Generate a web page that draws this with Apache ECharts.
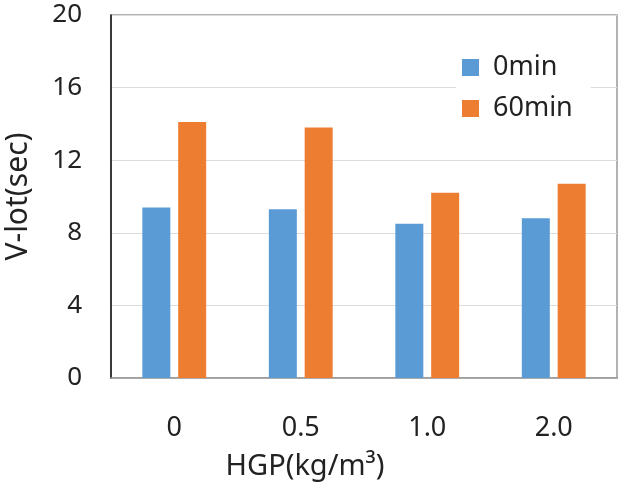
<!DOCTYPE html>
<html>
<head>
<meta charset="utf-8">
<script src="https://cdn.jsdelivr.net/npm/echarts@6/dist/echarts.min.js"></script>
<style>
  html, body { margin: 0; padding: 0; background: #fff; }
  #chart { width: 631px; height: 497px; }
</style>
</head>
<body>
<div id="chart"></div>
<script>
// HGP dosage categories
const categories = ['0', '0.5', '1.0', '2.0']
const min0 = [9.4, 9.3, 8.5, 8.8]
const min60 = [14.1, 13.8, 10.2, 10.7]
const yTicks = [0, 4, 8, 12, 16, 20]

const font = 'Noto Sans'
const chart = echarts.init(document.getElementById('chart'))
const option = {
  animation: false,
  textStyle: { fontFamily: font },
  legend: {
    data: ['0min', '60min'],
    orient: 'vertical',
    left: 456,
    top: 50,
    icon: 'rect',
    itemWidth: 17,
    itemHeight: 17,
    itemGap: 14,
    backgroundColor: '#fff',
    padding: [4, 18, 4, 6],
    textStyle: { fontSize: 27, lineHeight: 27, color: '#222', fontFamily: font, padding: [0, 0, 0, 9] }
  },
  grid: {
    left: 111,
    top: 15,
    right: 14,
    bottom: 119,
    outerBoundsMode: 'none',
    show: true,
    borderColor: '#999',
    borderWidth: 1.5
  },
  xAxis: {
    type: 'category',
    data: categories,
    name: 'HGP(kg/m³)',
    nameLocation: 'middle',
    nameGap: 74,
    // name sits left of the plot centre in the original
    nameTextStyle: { fontSize: 29, color: '#222', padding: [0, 118, 0, 0] },
    axisLine: { show: true, lineStyle: { color: '#999', width: 1.5 } },
    axisTick: { show: false },
    axisLabel: { fontSize: 27, color: '#222', margin: 37 }
  },
  yAxis: {
    type: 'value',
    min: yTicks[0],
    max: yTicks[yTicks.length - 1],
    interval: 4,
    name: 'V-lot(sec)',
    nameLocation: 'middle',
    nameGap: 78,
    nameTextStyle: { fontSize: 30, color: '#222' },
    axisLine: { show: true, lineStyle: { color: '#111', width: 1.5 } },
    axisTick: { show: false },
    axisLabel: { fontSize: 26, color: '#222', margin: 29 },
    splitLine: { show: true, lineStyle: { color: '#dcdcdc', width: 1 } }
  },
  series: [
    {
      name: '0min',
      type: 'bar',
      data: min0,
      barWidth: 28,
      barGap: '28%',
      itemStyle: { color: '#5b9bd5' }
    },
    {
      name: '60min',
      type: 'bar',
      data: min60,
      barWidth: 28,
      barGap: '28%',
      itemStyle: { color: '#ed7d31' }
    }
  ]
}
chart.setOption(option)
</script>
</body>
</html>
